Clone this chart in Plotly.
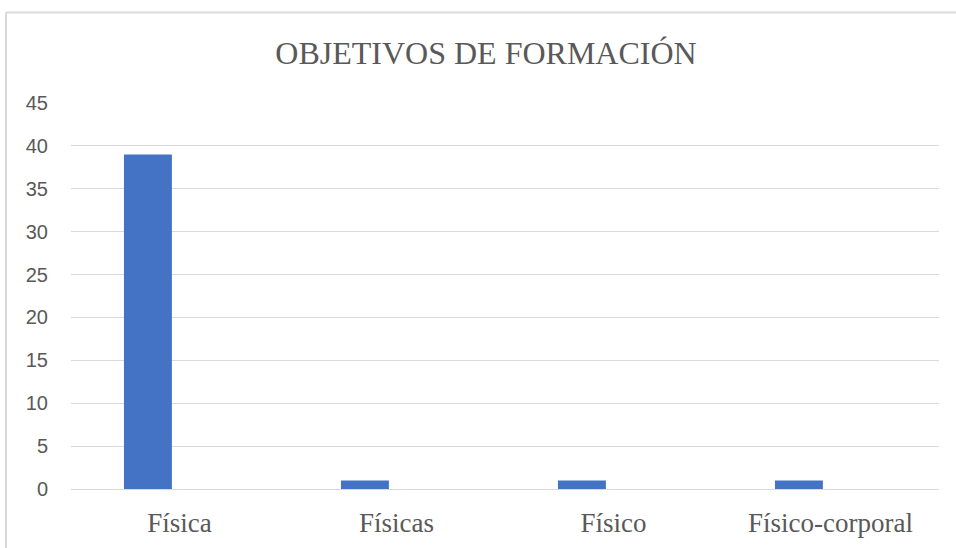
"""Bar chart: objetivos de formación."""

import plotly.graph_objects as go


CATEGORIES = ["Física", "Físicas", "Físico", "Físico-corporal"]
COUNTS = [39, 1, 1, 1]
Y_TICKS = [0, 5, 10, 15, 20, 25, 30, 35, 40, 45]

FIG_WIDTH = 956
FIG_HEIGHT = 548
MARGIN = {"l": 71, "r": 17, "t": 103, "b": 59}
PLOT_W = FIG_WIDTH - MARGIN["l"] - MARGIN["r"]
PLOT_H = FIG_HEIGHT - MARGIN["t"] - MARGIN["b"]

TEXT_GRAY = "#595959"
GRID_GRAY = "#d9d9d9"
BAR_BLUE = "#4472C4"


def px_to_paper_x(px: float) -> float:
    return (px - MARGIN["l"]) / PLOT_W


def px_to_paper_y(py: float) -> float:
    return 1 - (py - MARGIN["t"]) / PLOT_H


fig = go.Figure(
    go.Bar(
        x=CATEGORIES,
        y=COUNTS,
        width=0.221,
        offset=-0.256,
        marker={"color": BAR_BLUE, "line": {"width": 0}},
        hovertemplate="%{x}: %{y}<extra></extra>",
    )
)

fig.update_layout(
    width=FIG_WIDTH,
    height=FIG_HEIGHT,
    margin=MARGIN,
    paper_bgcolor="white",
    plot_bgcolor="white",
    showlegend=False,
    title={
        "text": "OBJETIVOS DE FORMACIÓN",
        "font": {"family": "Liberation Serif", "size": 32, "color": TEXT_GRAY},
        "x": 486 / FIG_WIDTH,
        "xanchor": "center",
        "xref": "container",
        "y": 1 - 53 / FIG_HEIGHT,
        "yref": "container",
        "yanchor": "middle",
    },
    # chart frame (left and top edges visible in the original)
    shapes=[
        {
            "type": "line",
            "xref": "paper",
            "yref": "paper",
            "x0": px_to_paper_x(6),
            "x1": px_to_paper_x(6),
            "y0": px_to_paper_y(12.5),
            "y1": px_to_paper_y(FIG_HEIGHT + 2),
            "line": {"color": GRID_GRAY, "width": 2},
        },
        {
            "type": "line",
            "xref": "paper",
            "yref": "paper",
            "x0": px_to_paper_x(6),
            "x1": px_to_paper_x(FIG_WIDTH + 2),
            "y0": px_to_paper_y(12.5),
            "y1": px_to_paper_y(12.5),
            "line": {"color": GRID_GRAY, "width": 2},
        },
    ],
)

fig.update_xaxes(
    automargin=False,
    showgrid=False,
    showline=False,
    zeroline=False,
    ticks="",
    ticklabelstandoff=15,
    tickfont={"family": "Liberation Serif", "size": 27, "color": TEXT_GRAY},
)

fig.update_yaxes(
    automargin=False,
    range=[0, 45],
    tickvals=Y_TICKS,
    showgrid=True,
    gridcolor=GRID_GRAY,
    gridwidth=1,
    zeroline=True,
    zerolinecolor=GRID_GRAY,
    zerolinewidth=1,
    showline=False,
    ticks="",
    ticklabelstandoff=22,
    tickfont={"family": "Liberation Sans", "size": 20, "color": TEXT_GRAY},
)

# drop the default page margin so the figure sits at the window's corner
fig.write_html(
    "out.html",
    config={"displayModeBar": False},
    post_script="document.body.style.margin = '0'; document.body.style.overflow = 'hidden';",
)
